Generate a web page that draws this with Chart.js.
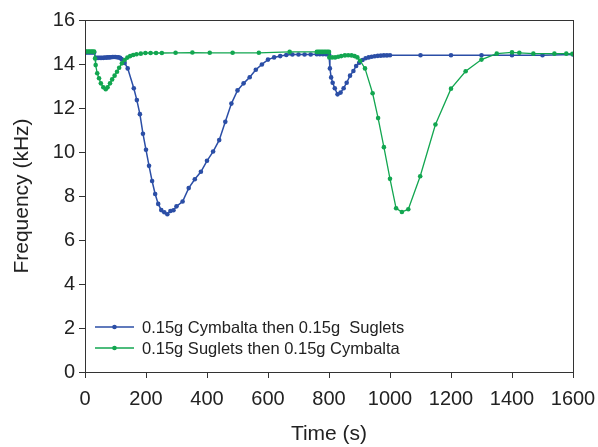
<!DOCTYPE html>
<html lang="en">
<head>
<meta charset="UTF-8">
<title>Frequency vs Time</title>
<script src="https://cdn.jsdelivr.net/npm/chart.js"></script>
<style>
  html, body { margin: 0; padding: 0; background: #fff; }
  #wrap { width: 598px; height: 447px; }
</style>
</head>
<body>
<div id="wrap"><canvas id="chart"></canvas></div>
<script>
// series 1: 0.15g Cymbalta then 0.15g Suglets
const blueLabel = '0.15g Cymbalta then 0.15g  Suglets';
const blueTime = [0,5,10,15,20,25,30,
  35,40,45,50,55,60,65,70,75,80,85,90,95,100,105,110,115,120,130,140,
  160,170,180,190,200,210,220,230,240,250,260,270,280,290,300,
  320,340,360,380,400,420,440,460,480,500,520,540,560,580,600,620,640,660,
  680,700,720,740,760,770,780,790,795,800,
  803,807,812,819,828,838,848,858,869,880,889,899,910,920,
  930,940,950,960,970,980,990,1000,
  1100,1200,1300,1400,1500,1600];
const blueFreq = [14.52,14.52,14.52,14.52,14.52,14.52,14.52,
  14.28,14.28,14.28,14.28,14.28,14.28,14.29,14.29,14.30,14.30,14.31,14.32,14.32,14.32,14.31,14.30,14.28,14.22,14.05,13.80,
  12.90,12.36,11.72,10.83,10.10,9.37,8.68,8.09,7.64,7.36,7.26,7.17,7.32,7.35,7.53,
  7.75,8.36,8.76,9.10,9.60,10.02,10.54,11.37,12.20,12.80,13.12,13.40,13.74,13.98,14.20,14.30,14.36,14.41,
  14.43,14.43,14.43,14.43,14.44,14.44,14.44,14.44,14.44,14.44,
  13.80,13.39,13.15,12.90,12.62,12.70,12.90,13.15,13.47,13.68,13.91,14.06,14.18,14.26,
  14.30,14.33,14.35,14.37,14.38,14.39,14.39,14.40,
  14.40,14.40,14.40,14.40,14.40,14.43];

// series 2: 0.15g Suglets then 0.15g Cymbalta
const greenLabel = '0.15g Suglets then 0.15g Cymbalta';
const greenTime = [0,5,10,15,20,25,30,
  33,35,40,46,52,60,68,74,82,89,97,105,112,121,130,139,148,158,169,183,198,215,233,252,
  297,352,409,484,570,671,
  760,765,770,775,780,785,790,795,800,
  801,810,820,830,840,852,863,874,884,893,902,918,
  943,961,980,1000,1020,1039,1060,1099,1149,1200,1248,1300,1350,1400,1424,1470,1539,1578,1598];
const greenFreq = [14.57,14.57,14.57,14.57,14.57,14.57,14.57,
  14.25,13.95,13.58,13.35,13.12,12.94,12.85,12.94,13.12,13.30,13.47,13.65,13.83,14.03,14.18,14.29,14.36,14.41,14.44,14.47,14.50,14.50,14.50,14.50,
  14.51,14.52,14.51,14.51,14.51,14.55,
  14.55,14.55,14.55,14.55,14.55,14.55,14.55,14.55,14.55,
  14.30,14.30,14.30,14.33,14.36,14.39,14.40,14.39,14.36,14.30,14.15,13.80,
  12.67,11.54,10.22,8.78,7.44,7.27,7.40,8.90,11.25,12.88,13.67,14.20,14.47,14.53,14.51,14.47,14.47,14.47,14.46];

const xTicks = [0,200,400,600,800,1000,1200,1400,1600];
const yTicks = [0,2,4,6,8,10,12,14,16];

const blueColor = '#2b4ea6';
const greenColor = '#12a650';
const fontFamily = '"Liberation Sans", Arial, sans-serif';

function toPoints(xs, ys) {
  return xs.map((x, i) => ({ x: x, y: ys[i] }));
}

// box around the plot plus legend drawn inside the plot area
const framePlugin = {
  id: 'frame',
  afterDraw(chart) {
    const ctx = chart.ctx;
    const a = chart.chartArea;
    ctx.save();
    ctx.strokeStyle = '#333';
    ctx.lineWidth = 1;
    ctx.strokeRect(a.left + 0.5, a.top + 0.5, a.right - a.left, a.bottom - a.top);

    const items = [[blueLabel, blueColor], [greenLabel, greenColor]];
    ctx.font = '16.5px ' + fontFamily;
    ctx.textBaseline = 'middle';
    items.forEach((it, i) => {
      const y = 327 + i * 21;
      ctx.strokeStyle = it[1];
      ctx.lineWidth = 1.3;
      ctx.beginPath();
      ctx.moveTo(95, y);
      ctx.lineTo(134, y);
      ctx.stroke();
      ctx.fillStyle = it[1];
      ctx.beginPath();
      ctx.arc(114.5, y, 2.3, 0, Math.PI * 2);
      ctx.fill();
      ctx.fillStyle = '#222';
      ctx.fillText(it[0], 142, y + 1);
    });
    ctx.restore();
  }
};

new Chart(document.getElementById('chart'), {
  type: 'line',
  data: {
    datasets: [
      {
        label: blueLabel,
        data: toPoints(blueTime, blueFreq),
        borderColor: blueColor,
        backgroundColor: blueColor,
        borderWidth: 1.5,
        pointRadius: 2.3,
        pointBorderWidth: 0,
        tension: 0,
        order: 1
      },
      {
        label: greenLabel,
        data: toPoints(greenTime, greenFreq),
        borderColor: greenColor,
        backgroundColor: greenColor,
        borderWidth: 1.3,
        pointRadius: 2.3,
        pointBorderWidth: 0,
        tension: 0,
        order: 0
      }
    ]
  },
  options: {
    responsive: true,
    maintainAspectRatio: false,
    animation: false,
    layout: { padding: { left: 0, right: 25, top: 20, bottom: 0 } },
    plugins: {
      legend: { display: false },
      tooltip: { enabled: false }
    },
    scales: {
      x: {
        type: 'linear',
        min: 0,
        max: 1600,
        afterBuildTicks: s => { s.ticks = xTicks.map(v => ({ value: v })); },
        afterFit: s => { s.height = 75; s.paddingLeft = 0; s.paddingRight = 0; },
        grid: { display: true, drawOnChartArea: false, drawTicks: true, tickLength: 6, color: '#333' },
        border: { color: '#333' },
        ticks: { color: '#222', font: { size: 20, family: fontFamily }, padding: 9, maxRotation: 0,
                 callback: v => String(v) },
        title: { display: true, text: 'Time (s)', color: '#222', font: { size: 21, family: fontFamily }, padding: { top: 8, bottom: 0 } }
      },
      y: {
        min: 0,
        max: 16,
        afterBuildTicks: s => { s.ticks = yTicks.map(v => ({ value: v })); },
        afterFit: s => { s.width = 85; s.paddingTop = 0; s.paddingBottom = 0; },
        grid: { display: true, drawOnChartArea: false, drawTicks: true, tickLength: 6, color: '#333' },
        border: { color: '#333' },
        ticks: { color: '#222', font: { size: 20, family: fontFamily }, padding: 4,
                 callback: v => String(v) },
        title: { display: true, text: 'Frequency (kHz)', color: '#222', font: { size: 21, family: fontFamily }, padding: { top: 10, bottom: 0 } }
      }
    }
  },
  plugins: [framePlugin]
});
</script>
</body>
</html>
